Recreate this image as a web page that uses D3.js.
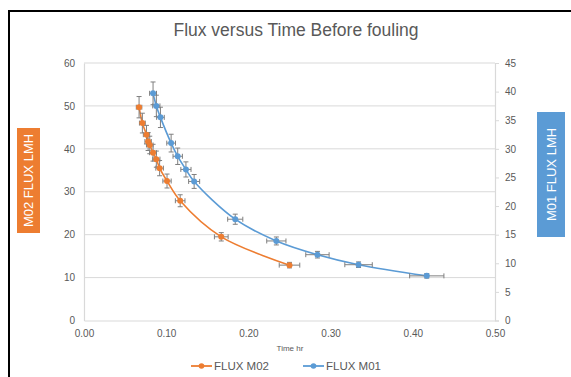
<!DOCTYPE html>
<html>
<head>
<meta charset="utf-8">
<script src="https://cdn.jsdelivr.net/npm/d3@7"></script>
<style>
  html, body { margin: 0; padding: 0; background: #fff; }
  svg { display: block; font-family: "Liberation Sans", Arial, sans-serif; }
</style>
</head>
<body>
<div id="chart"></div>
<script>
// Values
const timeM02 = [0.067, 0.071, 0.076, 0.078, 0.080, 0.084, 0.088, 0.092, 0.101, 0.117, 0.167, 0.250];
const fluxM02 = [49.7, 46.0, 43.3, 41.7, 40.9, 39.1, 37.6, 35.5, 32.5, 27.9, 19.5, 12.9];

const timeM01 = [0.084, 0.088, 0.093, 0.106, 0.114, 0.124, 0.134, 0.184, 0.234, 0.284, 0.334, 0.417];
const fluxM01 = [39.7, 37.5, 35.5, 31.0, 28.7, 26.4, 24.3, 17.7, 13.9, 11.5, 9.75, 7.8];

const xTicks = [0, 0.1, 0.2, 0.3, 0.4, 0.5];
const leftTicks = [0, 10, 20, 30, 40, 50, 60];
const rightTicks = [0, 5, 10, 15, 20, 25, 30, 35, 40, 45];

// Excel style percentage error bars (both directions)
const errorPct = 0.05;

const width = 571;
const height = 377;
const plot = { left: 84, right: 495, top: 63, bottom: 320.5 };

const textColor = "#595959";
const gridColor = "#d9d9d9";
const orange = "#ED7D31";
const blue = "#5B9BD5";

const svg = d3.select("#chart")
    .append("svg")
    .attr("width", width)
    .attr("height", height);

// black frame on the left and top
svg.append("path")
    .attr("d", `M9,${height} V11 H${width}`)
    .attr("fill", "none")
    .attr("stroke", "#000")
    .attr("stroke-width", 2);

svg.append("text")
    .attr("x", 296)
    .attr("y", 36)
    .attr("text-anchor", "middle")
    .attr("font-size", 17.5)
    .attr("fill", textColor)
    .text("Flux versus Time Before fouling");

const x = d3.scaleLinear().domain([0, 0.5]).range([plot.left, plot.right]);
const yLeft = d3.scaleLinear().domain([0, 60]).range([plot.bottom, plot.top]);
const yRight = d3.scaleLinear().domain([0, 45]).range([plot.bottom, plot.top]);

// gridlines
svg.append("g")
    .selectAll("line")
    .data(leftTicks.slice(1))
    .join("line")
    .attr("x1", plot.left)
    .attr("x2", plot.right)
    .attr("y1", (d) => yLeft(d))
    .attr("y2", (d) => yLeft(d))
    .attr("stroke", gridColor)
    .attr("stroke-width", 1);

// axes
const leftAxis = svg.append("g")
    .attr("transform", `translate(${plot.left},0)`)
    .call(d3.axisLeft(yLeft).tickValues(leftTicks).tickSize(0).tickPadding(9));

const rightAxis = svg.append("g")
    .attr("transform", `translate(${plot.right},0)`)
    .call(d3.axisRight(yRight).tickValues(rightTicks).tickSize(4).tickPadding(6));

const bottomAxis = svg.append("g")
    .attr("transform", `translate(0,${plot.bottom})`)
    .call(d3.axisBottom(x).tickValues(xTicks).tickFormat(d3.format(".2f")).tickSize(0).tickPadding(9));

[leftAxis, rightAxis, bottomAxis].forEach((g) => {
    g.select(".domain").attr("stroke", gridColor).attr("stroke-width", 1.2);
    g.selectAll(".tick line").attr("stroke", gridColor);
    g.selectAll(".tick text")
        .attr("fill", textColor)
        .attr("font-size", 10)
        .attr("font-family", "'Liberation Sans', Arial, sans-serif");
});

svg.append("text")
    .attr("x", 290)
    .attr("y", 351)
    .attr("text-anchor", "middle")
    .attr("font-size", 8)
    .attr("fill", textColor)
    .text("Time hr");

// axis title boxes
const titleBox = (cx, cy, w, h, color, label) => {
    const g = svg.append("g").attr("transform", `translate(${cx},${cy})`);
    g.append("rect")
        .attr("x", -w / 2)
        .attr("y", -h / 2)
        .attr("width", w)
        .attr("height", h)
        .attr("fill", color);
    g.append("text")
        .attr("transform", "rotate(-90)")
        .attr("text-anchor", "middle")
        .attr("dy", "0.35em")
        .attr("font-size", 13)
        .attr("fill", "#fff")
        .text(label);
};

titleBox(28.5, 180.5, 23, 105, orange, "M02 FLUX LMH");
titleBox(551, 174.5, 28, 125, blue, "M01 FLUX LMH");

// series
const series = [
    { name: "FLUX M02", time: timeM02, flux: fluxM02, y: yLeft, color: orange },
    { name: "FLUX M01", time: timeM01, flux: fluxM01, y: yRight, color: blue },
];

series.forEach((s) => {
    const points = s.time.map((t, i) => ({ t, v: s.flux[i] }));
    const g = svg.append("g");

    const line = d3.line()
        .x((d) => x(d.t))
        .y((d) => s.y(d.v))
        .curve(d3.curveCatmullRom.alpha(0.5));

    g.append("path")
        .datum(points)
        .attr("d", line)
        .attr("fill", "none")
        .attr("stroke", s.color)
        .attr("stroke-width", 1.6);

    // error bars
    const cap = 2.5;
    const bars = g.selectAll("g.err")
        .data(points)
        .join("g")
        .attr("class", "err")
        .attr("stroke", "#7f7f7f")
        .attr("stroke-width", 1);

    bars.append("path")
        .attr("d", (d) => {
            const cx = x(d.t);
            const cy = s.y(d.v);
            const y0 = s.y(d.v * (1 - errorPct));
            const y1 = s.y(d.v * (1 + errorPct));
            const x0 = x(d.t * (1 - errorPct));
            const x1 = x(d.t * (1 + errorPct));
            return `M${cx},${y0}V${y1}` +
                `M${cx - cap},${y0}H${cx + cap}M${cx - cap},${y1}H${cx + cap}` +
                `M${x0},${cy}H${x1}` +
                `M${x0},${cy - cap}V${cy + cap}M${x1},${cy - cap}V${cy + cap}`;
        })
        .attr("fill", "none");

    g.selectAll("circle")
        .data(points)
        .join("circle")
        .attr("cx", (d) => x(d.t))
        .attr("cy", (d) => s.y(d.v))
        .attr("r", 3)
        .attr("fill", s.color);
});

// legend
const legendItems = [
    { name: "FLUX M02", color: orange, x: 191 },
    { name: "FLUX M01", color: blue, x: 303 },
];

const legend = svg.append("g")
    .selectAll("g")
    .data(legendItems)
    .join("g")
    .attr("transform", (d) => `translate(${d.x},366)`);

legend.append("line")
    .attr("x1", 0)
    .attr("x2", 21)
    .attr("stroke", (d) => d.color)
    .attr("stroke-width", 1.8);

legend.append("circle")
    .attr("cx", 10.5)
    .attr("r", 2.8)
    .attr("fill", (d) => d.color);

legend.append("text")
    .attr("x", 23)
    .attr("dy", "0.36em")
    .attr("font-size", 11.5)
    .attr("fill", textColor)
    .text((d) => d.name);
</script>
</body>
</html>
